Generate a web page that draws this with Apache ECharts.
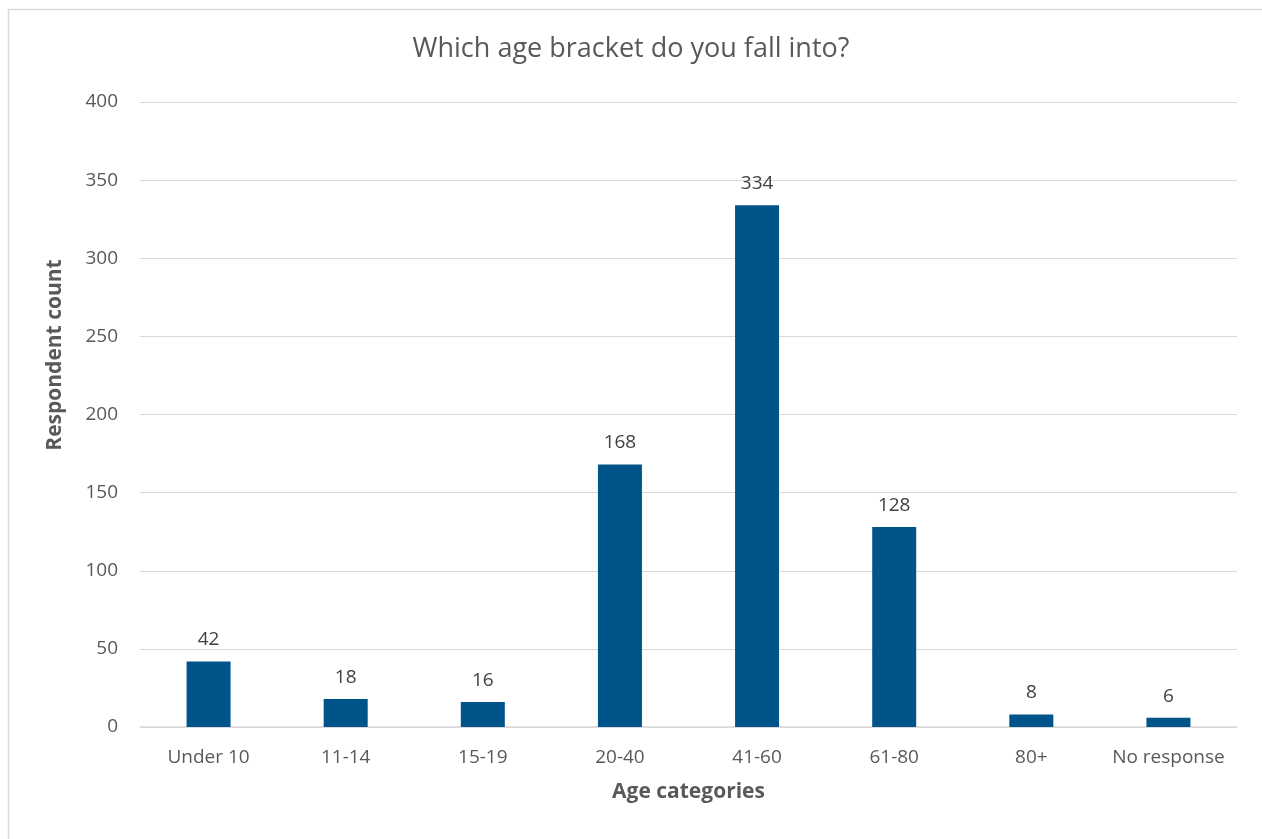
<!DOCTYPE html>
<html><head><meta charset="utf-8">
<script src="https://cdn.jsdelivr.net/npm/echarts@6/dist/echarts.min.js"></script>
<style>html,body{margin:0;padding:0;background:#fff}#c{width:1262px;height:839px}</style>
</head><body><div id="c"></div>
<script>
const categories = ["Under 10","11-14","15-19","20-40","41-60","61-80","80+","No response"];
const counts = [42,18,16,168,334,128,8,6];
const yTicks = [0,50,100,150,200,250,300,350,400];
const font = "'Open Sans', sans-serif";
const chart = echarts.init(document.getElementById('c'));
chart.setOption({
  animation:false,
  graphic:[
    {type:'rect',shape:{x:8.5,y:9.5,width:1300,height:900},style:{fill:'none',stroke:'#d9d9d9',lineWidth:1.5}},
    {type:'text',x:55,y:355,rotation:Math.PI/2,style:{text:'Respondent count',font:"bold 21px 'Open Sans', sans-serif",fill:'#595959',align:'center',verticalAlign:'middle'}}
  ],
  title:{text:'Which age bracket do you fall into?',left:'center',top:31,textStyle:{fontFamily:font,fontSize:27,fontWeight:'normal',color:'#595959'}},
  grid:{left:140,right:25,top:102,bottom:112},
  xAxis:{type:'category',data:categories,name:'Age categories',nameLocation:'middle',nameGap:55,
    nameTextStyle:{fontFamily:font,fontSize:21,fontWeight:'bold',color:'#595959'},
    axisLine:{lineStyle:{color:'#d9d9d9',width:1.5}},axisTick:{show:false},
    axisLabel:{interval:0,hideOverlap:false,fontFamily:font,fontSize:19,color:'#595959',margin:21}},
  yAxis:{type:'value',min:yTicks[0],max:yTicks[yTicks.length-1],interval:50,
    axisLine:{show:false},axisTick:{show:false},
    axisLabel:{fontFamily:font,fontSize:19,color:'#595959',margin:22},
    splitLine:{lineStyle:{color:'#d9d9d9',width:1.2}}},
  series:[{type:'bar',data:counts,barWidth:44,itemStyle:{color:'#00548a'},
    label:{show:true,position:'top',distance:12,fontFamily:font,fontSize:19,color:'#404040'}}]
});
</script></body></html>
